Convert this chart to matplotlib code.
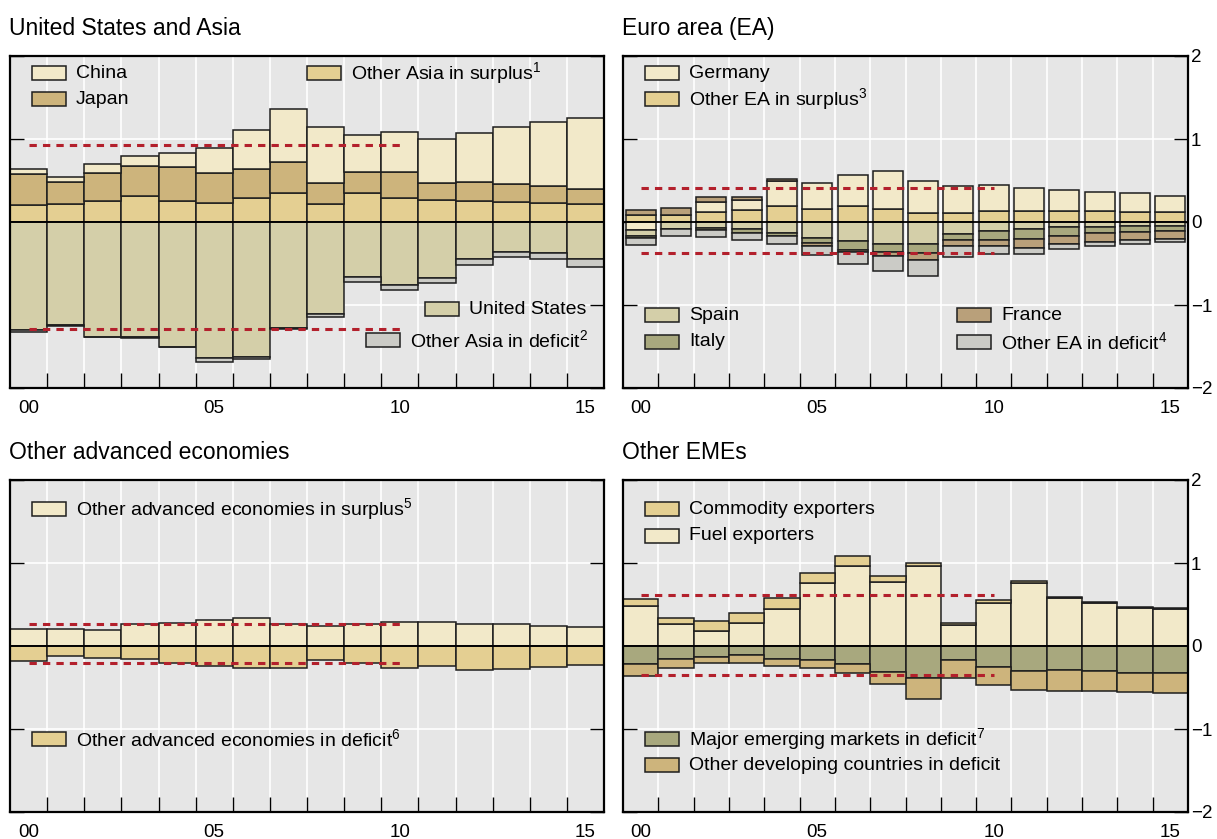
import matplotlib
matplotlib.use("Agg")
import matplotlib.pyplot as plt
from matplotlib.patches import Rectangle
import numpy as np

plt.rcParams["font.family"] = ["Liberation Sans", "DejaVu Sans"]
plt.rcParams["mathtext.fontset"] = "custom"
plt.rcParams["mathtext.rm"] = "Liberation Sans"
plt.rcParams["mathtext.it"] = "Liberation Sans:italic"

years = list(range(2000, 2016))
year_labels = ["00", "05", "10", "15"]

# United States and Asia, % of world GDP
china = [0.065, 0.06, 0.11, 0.12, 0.17, 0.30, 0.475, 0.64, 0.675, 0.45, 0.49, 0.52, 0.59, 0.686, 0.78, 0.863]
japan = [0.37, 0.27, 0.34, 0.36, 0.41, 0.365, 0.35, 0.375, 0.25, 0.25, 0.31, 0.21, 0.23, 0.217, 0.205, 0.177]
other_asia_surplus = [0.205, 0.213, 0.253, 0.317, 0.249, 0.225, 0.285, 0.345, 0.217, 0.35, 0.29, 0.265, 0.25, 0.237, 0.225, 0.217]
united_states = [-1.30, -1.24, -1.38, -1.39, -1.50, -1.64, -1.63, -1.28, -1.11, -0.66, -0.76, -0.675, -0.45, -0.357, -0.37, -0.45]
other_asia_deficit = [-0.02, -0.01, -0.01, -0.01, -0.01, -0.045, -0.02, -0.01, -0.04, -0.06, -0.06, -0.055, -0.07, -0.06, -0.07, -0.09]
asia_band = [0.924, -1.285]

# Euro area
other_ea_surplus = [0.08, 0.085, 0.126, 0.14, 0.19, 0.16, 0.19, 0.155, 0.114, 0.106, 0.13, 0.134, 0.138, 0.13, 0.126, 0.118]
germany = [-0.10, 0.0, 0.12, 0.126, 0.30, 0.31, 0.38, 0.455, 0.38, 0.325, 0.31, 0.27, 0.25, 0.236, 0.224, 0.20]
spain = [-0.07, -0.08, -0.07, -0.085, -0.13, -0.19, -0.23, -0.27, -0.26, -0.14, -0.106, -0.085, -0.065, -0.057, -0.05, -0.05]
italy = [-0.025, -0.005, -0.03, -0.05, -0.04, -0.06, -0.105, -0.09, -0.114, -0.073, -0.106, -0.114, -0.10, -0.077, -0.07, -0.057]
france = [0.06, 0.08, 0.057, 0.04, 0.03, -0.035, -0.03, -0.045, -0.08, -0.073, -0.08, -0.11, -0.106, -0.106, -0.10, -0.094]
other_ea_deficit = [-0.085, -0.085, -0.08, -0.08, -0.09, -0.11, -0.14, -0.18, -0.20, -0.13, -0.094, -0.077, -0.053, -0.049, -0.045, -0.037]
ea_band = [0.41, -0.37]

# Other advanced economies
oae_surplus = [0.21, 0.20, 0.19, 0.27, 0.28, 0.31, 0.34, 0.26, 0.24, 0.26, 0.29, 0.29, 0.27, 0.26, 0.24, 0.23]
oae_deficit = [-0.18, -0.12, -0.14, -0.16, -0.21, -0.24, -0.27, -0.26, -0.17, -0.21, -0.26, -0.24, -0.29, -0.28, -0.25, -0.23]
oae_band = [0.26, -0.20]

# Other EMEs
fuel = [0.48, 0.26, 0.18, 0.28, 0.44, 0.76, 0.96, 0.77, 0.96, 0.25, 0.52, 0.76, 0.58, 0.52, 0.46, 0.44]
commodity = [0.09, 0.08, 0.12, 0.12, 0.14, 0.12, 0.13, 0.07, 0.04, 0.03, 0.03, 0.02, 0.01, 0.01, 0.01, 0.02]
major_em = [-0.22, -0.16, -0.13, -0.11, -0.16, -0.17, -0.22, -0.31, -0.38, -0.17, -0.25, -0.30, -0.29, -0.30, -0.32, -0.33]
other_dev = [-0.14, -0.11, -0.08, -0.09, -0.08, -0.10, -0.11, -0.15, -0.26, -0.22, -0.22, -0.23, -0.25, -0.24, -0.24, -0.24]
eme_band = [0.62, -0.35]

CREAM = "#f2e9c9"
LIGHT_TAN = "#e4cf92"
TAN = "#cdb47c"
PALE_OLIVE = "#d4cfa9"
GREY = "#cbcbc6"
OLIVE = "#a8a87e"
BROWN = "#b9a07a"
RED = "#b3202c"
EDGE = "#1e1e1e"

W, H = 1217, 839
fig = plt.figure(figsize=(W / 100, H / 100), dpi=100)


def add_panel(left, top, right, bottom, title, right_labels):
    ax = fig.add_axes([left / W, 1 - bottom / H, (right - left) / W, (bottom - top) / H])
    ax.set_facecolor("#e6e6e6")
    ax.set_xlim(1999.5, 2015.5)
    ax.set_ylim(-2, 2)
    ax.set_xticks(years[::5])
    ax.set_xticklabels(year_labels)
    ax.set_xticks(np.arange(2000.5, 2015), minor=True)
    ax.set_yticks([-2, -1, 0, 1, 2])
    ax.tick_params(axis="x", which="major", length=0, pad=8.5, labelsize=13.5)
    ax.tick_params(axis="x", which="minor", direction="in", length=11, width=1)
    ax.tick_params(axis="y", direction="in", length=10, width=1, left=True, right=True,
                   labelleft=False, labelright=right_labels, labelsize=13.5, pad=2)
    ax.grid(which="minor", axis="x", color="white", lw=1.2)
    ax.grid(which="major", axis="y", color="white", lw=1.2)
    ax.set_axisbelow(True)
    for s in ax.spines.values():
        s.set_linewidth(1.6)
    ax.axhline(0, color="black", lw=1.3, zorder=3)
    fig.text((left - 1) / W, 1 - (top - 21) / H, title, fontsize=16.5, va="baseline", ha="left")
    return ax


def stack(ax, series, colors, width):
    pos = np.zeros(len(years))
    neg = np.zeros(len(years))
    for vals, c in zip(series, colors):
        v = np.array(vals)
        bottom = np.where(v >= 0, pos, neg)
        ax.bar(years, v, width=width, bottom=bottom, color=c, edgecolor=EDGE, lw=1.1, zorder=2)
        pos += np.where(v > 0, v, 0)
        neg += np.where(v < 0, v, 0)


def band(ax, levels):
    for y in levels:
        ax.plot([years[0], years[10]], [y, y], color=RED, lw=2.2, dashes=(2.4, 2.0), zorder=4)


def key(x, y, color, label):
    fig.add_artist(Rectangle((x / W, 1 - (y + 7) / H), 34 / W, 14 / H, transform=fig.transFigure,
                             facecolor=color, edgecolor=EDGE, lw=1.1))
    fig.text((x + 44) / W, 1 - y / H, label, fontsize=14, va="center", ha="left")


# United States and Asia
ax1 = add_panel(10, 56, 604, 388, "United States and Asia", False)
stack(ax1, [other_asia_surplus, japan, china, united_states, other_asia_deficit],
      [LIGHT_TAN, TAN, CREAM, PALE_OLIVE, GREY], 1.0)
band(ax1, asia_band)
key(32, 73, CREAM, "China")
key(32, 99, TAN, "Japan")
key(307, 73, LIGHT_TAN, r"Other Asia in surplus$^1$")
key(425, 309, PALE_OLIVE, "United States")
key(366, 340, GREY, r"Other Asia in deficit$^2$")

# Euro area
ax2 = add_panel(623, 56, 1188, 388, "Euro area (EA)", True)
stack(ax2, [other_ea_surplus, germany, spain, italy, france, other_ea_deficit],
      [LIGHT_TAN, CREAM, PALE_OLIVE, OLIVE, BROWN, GREY], 0.85)
band(ax2, ea_band)
key(645, 73, CREAM, "Germany")
key(645, 99, LIGHT_TAN, r"Other EA in surplus$^3$")
key(645, 315, PALE_OLIVE, "Spain")
key(645, 342, OLIVE, "Italy")
key(957, 315, BROWN, "France")
key(957, 342, GREY, r"Other EA in deficit$^4$")

# Other advanced economies
ax3 = add_panel(10, 480, 604, 812, "Other advanced economies", False)
stack(ax3, [oae_surplus, oae_deficit], [CREAM, LIGHT_TAN], 1.0)
band(ax3, oae_band)
key(32, 509, CREAM, r"Other advanced economies in surplus$^5$")
key(32, 739, LIGHT_TAN, r"Other advanced economies in deficit$^6$")

# Other EMEs
ax4 = add_panel(623, 480, 1188, 812, "Other EMEs", True)
stack(ax4, [fuel, commodity, major_em, other_dev], [CREAM, LIGHT_TAN, OLIVE, TAN], 1.0)
band(ax4, eme_band)
key(645, 509, LIGHT_TAN, "Commodity exporters")
key(645, 536, CREAM, "Fuel exporters")
key(645, 739, OLIVE, r"Major emerging markets in deficit$^7$")
key(645, 765, TAN, "Other developing countries in deficit")

fig.savefig("out.png", dpi=100)
